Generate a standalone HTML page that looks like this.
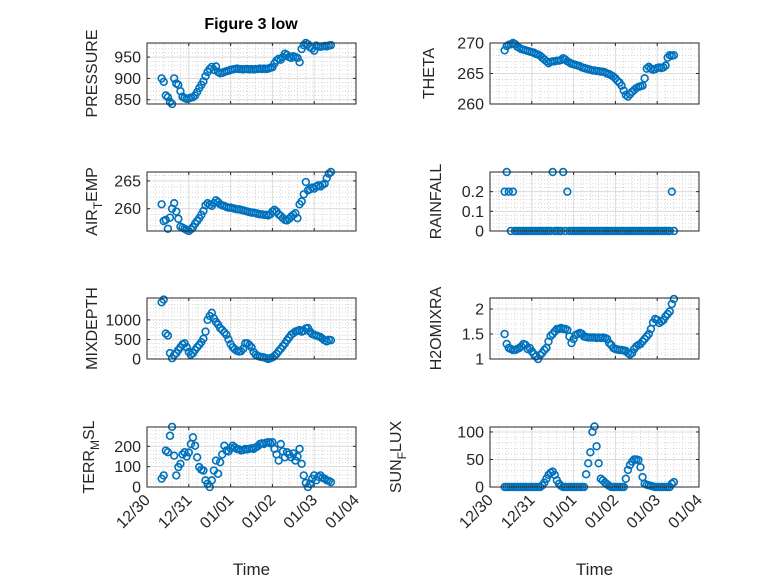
<!DOCTYPE html>
<html><head><meta charset="utf-8"><style>
html,body{margin:0;padding:0;background:#fff;}
svg{display:block;font-family:"Liberation Sans",sans-serif;}
</style></head><body>
<svg id="fig" width="778" height="583" viewBox="0 0 778 583" xmlns="http://www.w3.org/2000/svg">
<rect x="0" y="0" width="778" height="583" fill="#fff"/>
<text x="251" y="29" text-anchor="middle" font-size="16" font-weight="bold" fill="#000">Figure 3 low</text>
</svg>
<script>
const times = [0.35,0.40,0.45,0.50,0.55,0.60,0.65,0.70,0.75,0.80,0.85,0.90,0.95,1.00,1.05,1.10,1.15,1.20,1.25,1.30,1.35,1.40,1.45,1.50,1.55,1.60,1.65,1.70,1.75,1.80,1.85,1.90,1.95,2.00,2.05,2.10,2.15,2.20,2.25,2.30,2.35,2.40,2.45,2.50,2.55,2.60,2.65,2.70,2.75,2.80,2.85,2.90,2.95,3.00,3.05,3.10,3.15,3.20,3.25,3.30,3.35,3.40,3.45,3.50,3.55,3.60,3.65,3.70,3.75,3.80,3.85,3.90,3.95,4.00,4.05,4.10,4.15,4.20,4.25,4.30,4.35,4.40];
const xTickLabels = ["12/30","12/31","01/01","01/02","01/03","01/04"];
const pressure = [900,892,860,856,845,840,900,888,885,870,857,854,852,853,855,856,860,868,877,885,893,905,915,922,927,920,928,915,912,913,915,917,918,920,921,922,923,922,922,921,922,922,921,922,921,922,922,923,922,923,922,923,925,926,935,942,946,944,950,958,955,950,948,952,950,948,938,969,978,983,980,973,970,965,977,975,974,975,976,975,977,978];
const theta = [268.8,269.5,269.7,269.8,270,269.8,269.4,269.2,269.0,268.9,268.8,268.7,268.6,268.5,268.4,268.2,268.1,267.9,267.6,267.3,267.0,266.7,266.9,267.0,267.0,267.1,267.1,267.2,267.5,267.3,267.0,266.8,266.6,266.5,266.4,266.3,266.2,266.0,265.9,265.8,265.7,265.6,265.5,265.5,265.4,265.4,265.3,265.3,265.2,265.0,264.9,264.7,264.5,264.2,263.8,263.5,263.0,262.2,261.5,261.2,261.6,262.0,262.3,262.6,262.8,262.9,263.0,264.2,265.8,266.1,265.8,265.6,265.7,265.9,266.0,265.9,266.0,266.3,267.6,268.0,267.9,268.0];
const airTemp = [260.8,257.8,258.0,256.4,258.4,260.0,261.0,259.5,258.2,256.8,256.6,256.4,256.2,256.0,256.3,256.7,257.3,257.8,258.3,258.9,259.6,260.6,261.0,260.7,260.5,261.0,261.5,261.2,260.8,260.6,260.5,260.3,260.2,260.2,260.1,260.0,259.9,259.9,259.8,259.7,259.6,259.5,259.4,259.3,259.3,259.2,259.1,259.0,259.0,258.9,258.9,258.8,259.0,259.5,259.8,259.5,259.0,258.7,258.3,258.0,257.9,258.2,258.6,258.9,259.2,258.3,260.8,261.3,262.6,264.8,263.3,263.5,263.8,263.6,264.0,264.2,264.0,264.3,264.5,265.5,266.3,266.6];
const rainfall = [0.2,0.3,0.2,0,0.2,0,0,0,0,0,0,0,0,0,0,0,0,0,0,0,0,0,0,0.3,0,0,0,0,0.3,0,0.2,0,0,0,0,0,0,0,0,0,0,0,0,0,0,0,0,0,0,0,0,0,0,0,0,0,0,0,0,0,0,0,0,0,0,0,0,0,0,0,0,0,0,0,0,0,0,0,0,0,0.2,0];
const mixDepth = [1450,1520,650,600,150,20,100,150,230,300,370,400,300,180,110,150,230,300,360,430,520,700,1000,1100,1180,1040,950,880,790,740,680,620,500,380,300,250,210,190,200,260,400,400,360,300,180,110,80,60,50,40,20,0,20,40,80,130,200,260,330,400,480,550,620,660,700,720,740,700,720,780,790,700,640,620,600,580,560,520,480,450,490,480];
const h2oMix = [1.5,1.3,1.22,1.2,1.18,1.18,1.2,1.22,1.25,1.3,1.28,1.2,1.22,1.15,1.1,1.05,1.0,1.08,1.12,1.18,1.22,1.35,1.46,1.5,1.55,1.6,1.6,1.62,1.6,1.6,1.58,1.45,1.32,1.4,1.48,1.5,1.52,1.5,1.45,1.44,1.43,1.43,1.43,1.43,1.42,1.43,1.42,1.43,1.42,1.4,1.32,1.28,1.22,1.2,1.19,1.18,1.18,1.17,1.16,1.12,1.09,1.12,1.2,1.25,1.28,1.3,1.35,1.4,1.45,1.5,1.6,1.73,1.8,1.78,1.72,1.75,1.78,1.85,1.9,1.95,2.1,2.2];
const terrMsl = [41,57,179,171,252,296,154,57,98,114,160,171,150,170,211,244,203,146,98,85,81,33,16,0,33,81,130,65,122,160,203,179,175,190,203,195,187,185,180,182,187,185,188,190,187,195,200,211,215,212,218,220,215,220,187,160,130,211,175,146,171,160,146,165,130,150,187,114,57,20,0,16,40,57,33,50,57,45,41,33,30,24];
const sunFlux = [0,0,0,0,0,0,0,0,0,0,0,0,0,0,0,0,0,0,3,8,15,22,26,28,22,12,6,2,0,0,0,0,0,0,0,0,0,0,0,23,43,63,100,110,74,43,15,12,8,5,2,0,0,0,0,0,0,0,15,31,40,46,50,50,49,36,18,6,4,3,2,1,0,0,0,0,0,0,0,0,6,9];

const NS="http://www.w3.org/2000/svg";
const svg=document.getElementById('fig');
function mk(tag,attrs,parent){const e=document.createElementNS(NS,tag);for(const k in attrs)e.setAttribute(k,attrs[k]);(parent||svg).appendChild(e);return e;}

const colL={x0:147,x1:356}, colR={x0:490,x1:699};
const rows=[{y0:43,y1:104},{y0:172,y1:231},{y0:298,y1:359},{y0:427,y1:487}];
const panels=[
 {key:'pressure',data:pressure,col:colL,row:0,ymin:840,ymax:983,ticks:[850,900,950],step:50,label:['PRESSURE'],lx:91},
 {key:'theta',data:theta,col:colR,row:0,ymin:260,ymax:270,ticks:[260,265,270],step:5,label:['THETA'],lx:428},
 {key:'air-temp',data:airTemp,col:colL,row:1,ymin:256,ymax:266.6,ticks:[260,265],step:5,label:['AIR','T','EMP'],lx:91},
 {key:'rainfall',data:rainfall,col:colR,row:1,ymin:0,ymax:0.3,ticks:[0,0.1,0.2],step:0.1,label:['RAINFALL'],lx:435},
 {key:'mixdepth',data:mixDepth,col:colL,row:2,ymin:0,ymax:1560,ticks:[0,500,1000],step:500,label:['MIXDEPTH'],lx:91},
 {key:'h2omixra',data:h2oMix,col:colR,row:2,ymin:1,ymax:2.22,ticks:[1,1.5,2],step:0.5,label:['H2OMIXRA'],lx:435},
 {key:'terr-msl',data:terrMsl,col:colL,row:3,ymin:0,ymax:295,ticks:[0,100,200],step:100,label:['TERR','M','SL'],lx:88},
 {key:'sun-flux',data:sunFlux,col:colR,row:3,ymin:0,ymax:109,ticks:[0,50,100],step:50,label:['SUN','F','LUX'],lx:395}
];

panels.forEach(p=>{
 const c=p.col, r=rows[p.row];
 const xs=d=>c.x0+(d/5)*(c.x1-c.x0);
 const ys=v=>r.y1-(v-p.ymin)/(p.ymax-p.ymin)*(r.y1-r.y0);
 const g=mk('g',{});
 
 
 mk('rect',{x:c.x0,y:r.y0,width:c.x1-c.x0,height:r.y1-r.y0,fill:'#fff'},g);
 for(let d=0.2;d<5;d+=0.2){ if(Math.abs(d-Math.round(d))<1e-6) continue;
   mk('line',{x1:xs(d),x2:xs(d),y1:r.y0,y2:r.y1,stroke:'#bdbdbd','stroke-width':0.6,'stroke-dasharray':'1 2'},g);}
 const ms=p.step/5;
 for(let v=Math.ceil(p.ymin/ms)*ms;v<=p.ymax;v+=ms){
   mk('line',{x1:c.x0,x2:c.x1,y1:ys(v),y2:ys(v),stroke:'#bdbdbd','stroke-width':0.6,'stroke-dasharray':'1 2'},g);}
 for(let d=1;d<5;d++) mk('line',{x1:xs(d),x2:xs(d),y1:r.y0,y2:r.y1,stroke:'#dcdcdc','stroke-width':1},g);
 p.ticks.forEach(v=>{
   mk('line',{x1:c.x0,x2:c.x1,y1:ys(v),y2:ys(v),stroke:'#dcdcdc','stroke-width':1},g);
   mk('line',{x1:c.x0,x2:c.x0+3,y1:ys(v),y2:ys(v),stroke:'#262626','stroke-width':1},g);
   mk('line',{x1:c.x1,x2:c.x1-3,y1:ys(v),y2:ys(v),stroke:'#262626','stroke-width':1},g);
   const t=mk('text',{x:c.x0-6,y:ys(v)+5.5,'text-anchor':'end','font-size':16,fill:'#262626'},g);
   
   
   t.textContent=String(v);
 });
 for(let d=1;d<5;d++){
   mk('line',{x1:xs(d),x2:xs(d),y1:r.y1,y2:r.y1-3,stroke:'#262626','stroke-width':1},g);
   mk('line',{x1:xs(d),x2:xs(d),y1:r.y0,y2:r.y0+3,stroke:'#262626','stroke-width':1},g);
 }
 p.data.forEach((v,i)=>{
   const m=mk('circle',{cx:xs(times[i]),cy:ys(v),r:3.4,fill:'none',stroke:'#0072BD','stroke-width':1.6},g);
   
   
 });
 mk('rect',{x:c.x0,y:r.y0,width:c.x1-c.x0,height:r.y1-r.y0,fill:'none',stroke:'#262626','stroke-width':1},g);
 const cy=(r.y0+r.y1)/2;
 const lt=mk('text',{x:0,y:0,'text-anchor':'middle','font-size':16,fill:'#262626',transform:`translate(${p.lx+6},${cy}) rotate(-90)`},g);
 
 
 if(p.label.length===1){lt.textContent=p.label[0];}
 else{
   const a=mk('tspan',{},lt);a.textContent=p.label[0];
   const b=mk('tspan',{'font-size':12,dy:5},lt);b.textContent=p.label[1];
   const cc=mk('tspan',{dy:-5},lt);cc.textContent=p.label[2];
 }
 if(p.row===3){
   xTickLabels.forEach((s,k)=>{
     const t=mk('text',{x:0,y:0,'text-anchor':'end','font-size':16,fill:'#262626',transform:`translate(${xs(k)+4},${r.y1+14}) rotate(-45)`},g);
     
     
     t.textContent=s;
   });
   const xt=mk('text',{x:(c.x0+c.x1)/2,y:575,'text-anchor':'middle','font-size':17,fill:'#262626'},g);
   
   
   xt.textContent='Time';
 }
});
</script>
</body></html>
